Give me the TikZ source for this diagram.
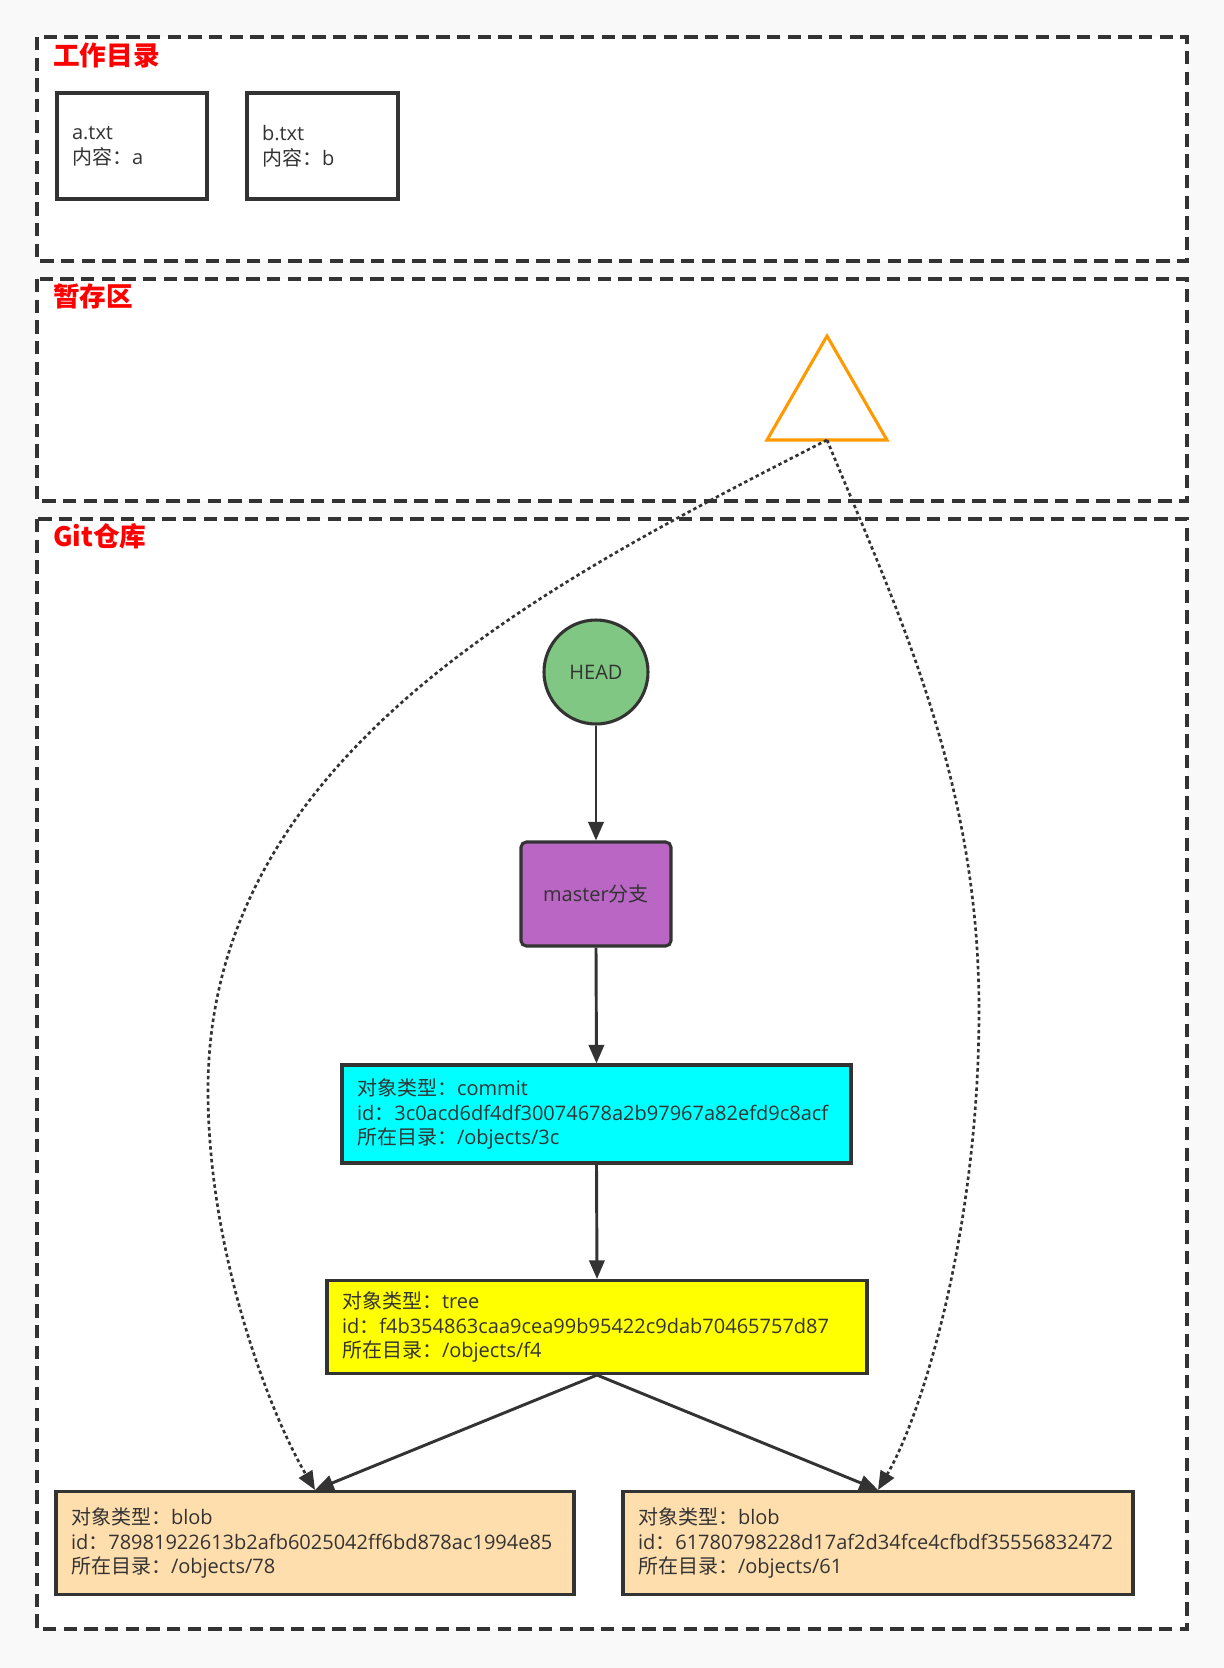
\documentclass[tikz,border=0pt]{standalone}
\usepackage{fontspec}
\setmainfont{Open Sans}
\newfontfamily\cjk{Noto Sans CJK SC}
\usetikzlibrary{arrows.meta}
\definecolor{dk}{RGB}{51,51,51}
\definecolor{bgc}{RGB}{249,249,249}
\definecolor{headgreen}{RGB}{127,199,130}
\definecolor{masterpurple}{RGB}{185,102,196}
\definecolor{blobfill}{RGB}{255,222,173}
\definecolor{triorange}{RGB}{255,153,0}
\definecolor{commitcyan}{RGB}{0,255,255}
\definecolor{treeyellow}{RGB}{255,255,0}
\begin{document}
\begin{tikzpicture}[x=0.75pt,y=-0.75pt,
  tip/.style={-{Triangle[length=14pt,width=11.5pt]}},
  container/.style={draw=dk, fill=white, line width=2.4pt, dash pattern=on 10pt off 5.5pt},
  title/.style={anchor=west, text=red, font=\cjk\bfseries\fontsize{20pt}{24pt}\selectfont, inner sep=0pt},
  txtbox/.style={draw=dk, line width=2.3pt, font=\fontsize{15pt}{18.4pt}\selectfont, text=dk, align=left, inner xsep=11.25pt, inner ysep=0pt},
  conn/.style={draw=dk, line width=2.2pt, tip},
  dotc/.style={draw=dk, line width=2pt, dash pattern=on 2.6pt off 2.2pt, tip},
]
% background and canvas
\fill[bgc] (0,0) rectangle (1224,1668);
\useasboundingbox (0,0) rectangle (1224,1668);

% containers
\draw[container] (37,37) rectangle (1187,261);
\draw[container] (37,279) rectangle (1187,501);
\draw[container] (37,519) rectangle (1187,1629);

\node[title] (t1) at (53,55) {工作目录};
\node[title] (t2) at (53,296) {暂存区};
\node[title] (t3) at (53,536) {Git仓库};

% working directory files
\node[txtbox, text width=90pt, minimum height=79.5pt] (fa) at (132,146) {a.txt\\{\cjk 内容：}a};
\node[txtbox, text width=90.75pt, minimum height=79.5pt] (fb) at (322.5,146) {b.txt\\{\cjk 内容：}b};

% staging triangle
\draw[triorange, line width=2.3pt, line join=miter, fill=white] (827,336) -- (767,440) -- (887,440) -- cycle;
\coordinate (tri) at (827,440);

% repository
\node[circle, draw=dk, fill=headgreen, line width=2.3pt, minimum size=78pt, inner sep=0pt,
      font=\fontsize{15pt}{18pt}\selectfont, text=dk] (head) at (596,672) {HEAD};
\node[rectangle, rounded corners=4pt, draw=dk, fill=masterpurple, line width=2.3pt,
      minimum width=112.5pt, minimum height=78pt, inner sep=0pt,
      font=\fontsize{15pt}{18pt}\selectfont, text=dk] (master) at (596,894) {master{\cjk 分支}};
\node[txtbox, fill=commitcyan, text width=359.25pt, minimum height=73.5pt] (commit) at (596.5,1114)
  {{\cjk 对象类型：}commit\\id{\cjk ：}3c0acd6df4df30074678a2b97967a82efd9c8acf\\{\cjk 所在目录：}/objects/3c};
\node[txtbox, fill=treeyellow, text width=382.5pt, minimum height=69.75pt] (tree) at (597,1327)
  {{\cjk 对象类型：}tree\\id{\cjk ：}f4b354863caa9cea99b95422c9dab70465757d87\\{\cjk 所在目录：}/objects/f4};
\node[txtbox, fill=blobfill, text width=366pt, minimum height=77.25pt] (blob1) at (315,1543)
  {{\cjk 对象类型：}blob\\id{\cjk ：}78981922613b2afb6025042ff6bd878ac1994e85\\{\cjk 所在目录：}/objects/78};
\node[txtbox, fill=blobfill, text width=360pt, minimum height=77.25pt] (blob2) at (878,1543)
  {{\cjk 对象类型：}blob\\id{\cjk ：}61780798228d17af2d34fce4cfbdf35556832472\\{\cjk 所在目录：}/objects/61};

% connectors
\draw[conn] (head.south) -- (master.north);
\draw[conn] (master.south) -- (commit.north);
\draw[conn] (commit.south) -- (tree.north);
\draw[conn] (tree.south) -- (blob1.north);
\draw[conn] (tree.south) -- (blob2.north);

\coordinate (lw) at (208,1090);
\coordinate (rw) at (979,1010);
\draw[dotc] (tri) .. controls (560,577) and (208,750) .. (lw) .. controls (208,1250) and (268,1410) .. (blob1.north);
\draw[dotc] (tri) .. controls (898,612) and (979,780) .. (rw) .. controls (979,1230) and (922,1415) .. (blob2.north);
\end{tikzpicture}
\end{document}
